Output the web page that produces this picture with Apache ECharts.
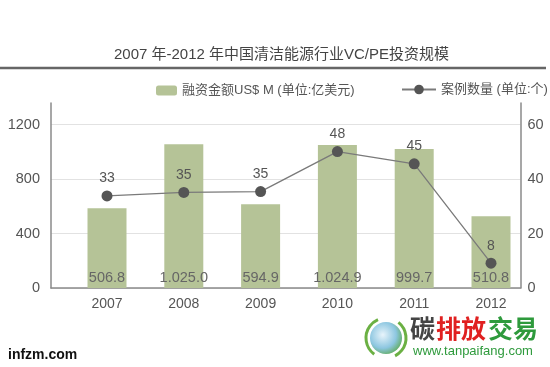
<!DOCTYPE html>
<html>
<head>
<meta charset="utf-8">
<script src="https://cdn.jsdelivr.net/npm/echarts@6/dist/echarts.min.js"></script>
<style>html,body{margin:0;padding:0;background:#fff;}#chart{width:550px;height:367px;}</style>
</head>
<body>
<div id="chart"></div>
<script>
// ---- data ----
const categories = ['2007', '2008', '2009', '2010', '2011', '2012'];
const fundingHeights = [585, 1055, 615, 1050, 1021, 527];          // bar heights as drawn
const fundingLabels = ['506.8', '1.025.0', '594.9', '1.024.9', '999.7', '510.8'];
const caseCounts = [33.8, 35.1, 35.4, 50.1, 45.6, 9.1];           // point heights as drawn
const caseLabels = ['33', '35', '35', '48', '45', '8'];
const leftMax = 1358.7, leftInterval = 400;
const rightMax = 67.93, rightInterval = 20;
const titleText = '2007 年-2012 年中国清洁能源行业VC/PE投资规模';
const barName = '融资金额US$ M (单位:亿美元)';
const lineName = '案例数量 (单位:个)';

const FF = "'Liberation Sans', 'Noto Sans CJK SC', sans-serif";
const chart = echarts.init(document.getElementById('chart'), null, {renderer: 'canvas'});

const frameTop = 103, frameBottom = 79;
const axisColor = '#8a8a8a';

chart.setOption({
  backgroundColor: '#fff',
  animation: false,
  textStyle: {fontFamily: FF},
  legend: [
    {data: [barName], left: 151, top: 79, itemWidth: 21, itemHeight: 10, itemGap: 6,
     textStyle: {fontSize: 13, color: '#555', fontFamily: FF}},
    {data: [lineName], left: 396, top: 78, itemWidth: 34, itemHeight: 12,
     textStyle: {fontSize: 13, color: '#555', fontFamily: FF}}
  ],
  grid: [
    {left: 51, right: 29.5, top: frameTop, bottom: frameBottom, containLabel: false},
    {left: 68.6, right: 20.6, top: frameTop, bottom: frameBottom, containLabel: false}
  ],
  xAxis: [
    {gridIndex: 0, type: 'value', min: 0, max: 1, show: true,
     axisLine: {show: true, onZero: false, lineStyle: {color: axisColor, width: 1.5}},
     axisTick: {show: false}, axisLabel: {show: false}, splitLine: {show: false}},
    {gridIndex: 1, type: 'category', data: categories,
     axisLine: {show: false}, axisTick: {show: false},
     axisLabel: {margin: 9, fontSize: 14, color: '#555', fontFamily: FF}}
  ],
  yAxis: [
    {gridIndex: 0, type: 'value', position: 'left', min: 0, max: leftMax, interval: leftInterval,
     axisLine: {show: true, onZero: false, lineStyle: {color: axisColor, width: 1.5}},
     axisTick: {show: false},
     axisLabel: {margin: 11, fontSize: 14.5, color: '#555', fontFamily: FF, showMaxLabel: false,
                 formatter: v => String(v)},
     splitLine: {show: true, showMaxLine: false, lineStyle: {color: '#e2e2e2', width: 1}}},
    {gridIndex: 0, type: 'value', position: 'right', min: 0, max: rightMax, interval: rightInterval,
     axisLine: {show: true, onZero: false, lineStyle: {color: axisColor, width: 1.5}},
     axisTick: {show: false},
     axisLabel: {margin: 7, fontSize: 14.5, color: '#555', fontFamily: FF, showMaxLabel: false,
                 formatter: v => String(v)},
     splitLine: {show: false}},
    {gridIndex: 1, type: 'value', min: 0, max: leftMax, show: false},
    {gridIndex: 1, type: 'value', min: 0, max: rightMax, show: false}
  ],
  series: [
    {name: barName, type: 'bar', xAxisIndex: 1, yAxisIndex: 2, data: fundingHeights,
     barWidth: 39, itemStyle: {color: '#b5c397'},
     label: {show: true, position: 'insideBottom', distance: 3, fontSize: 14.5, color: '#666',
             fontFamily: FF, formatter: p => fundingLabels[p.dataIndex]}},
    {name: lineName, type: 'line', xAxisIndex: 1, yAxisIndex: 3, data: caseCounts,
     symbol: 'circle', symbolSize: 11,
     lineStyle: {color: '#7a7a7a', width: 1.3},
     itemStyle: {color: '#555'},
     label: {show: true, position: 'top', distance: 5, fontSize: 14, color: '#555',
             fontFamily: FF, formatter: p => caseLabels[p.dataIndex]}}
  ],
  graphic: [
    {type: 'text', x: 281.5, y: 55, style: {text: titleText, fill: '#444', font: '15px ' + FF,
      textAlign: 'center', textVerticalAlign: 'middle'}},
    {type: 'line', shape: {x1: 0, y1: 68, x2: 546, y2: 68}, style: {stroke: '#666', lineWidth: 2.5}},
    {type: 'text', x: 8, y: 355, style: {text: 'infzm.com', fill: '#111', font: 'bold 14px ' + FF,
      textVerticalAlign: 'middle'}},
    {type: 'circle', shape: {cx: 386, cy: 338, r: 16},
     style: {fill: new echarts.graphic.RadialGradient(0.4, 0.4, 0.7, [
       {offset: 0, color: '#e8f4fb'}, {offset: 0.6, color: '#8cc6e0'}, {offset: 1, color: '#5aa84a'}])}},
    {type: 'arc', shape: {cx: 386, cy: 338, r: 20, startAngle: 2.2, endAngle: 4.3},
     style: {stroke: '#6bb043', lineWidth: 3, fill: null}},
    {type: 'arc', shape: {cx: 386, cy: 338, r: 20, startAngle: -0.9, endAngle: 1.1},
     style: {stroke: '#6bb043', lineWidth: 3, fill: null}},
    {type: 'text', x: 410, y: 331, style: {text: '碳', fill: '#444', font: 'bold 25px ' + FF, textVerticalAlign: 'middle'}},
    {type: 'text', x: 436, y: 331, style: {text: '排放', fill: '#e02020', font: 'bold 25px ' + FF, textVerticalAlign: 'middle'}},
    {type: 'text', x: 488, y: 331, style: {text: '交易', fill: '#2e9a3c', font: 'bold 25px ' + FF, textVerticalAlign: 'middle'}},
    {type: 'text', x: 413, y: 351, style: {text: 'www.tanpaifang.com', fill: '#2e9a3c', font: '13px ' + FF, textVerticalAlign: 'middle'}}
  ]
});
</script>
</body>
</html>
